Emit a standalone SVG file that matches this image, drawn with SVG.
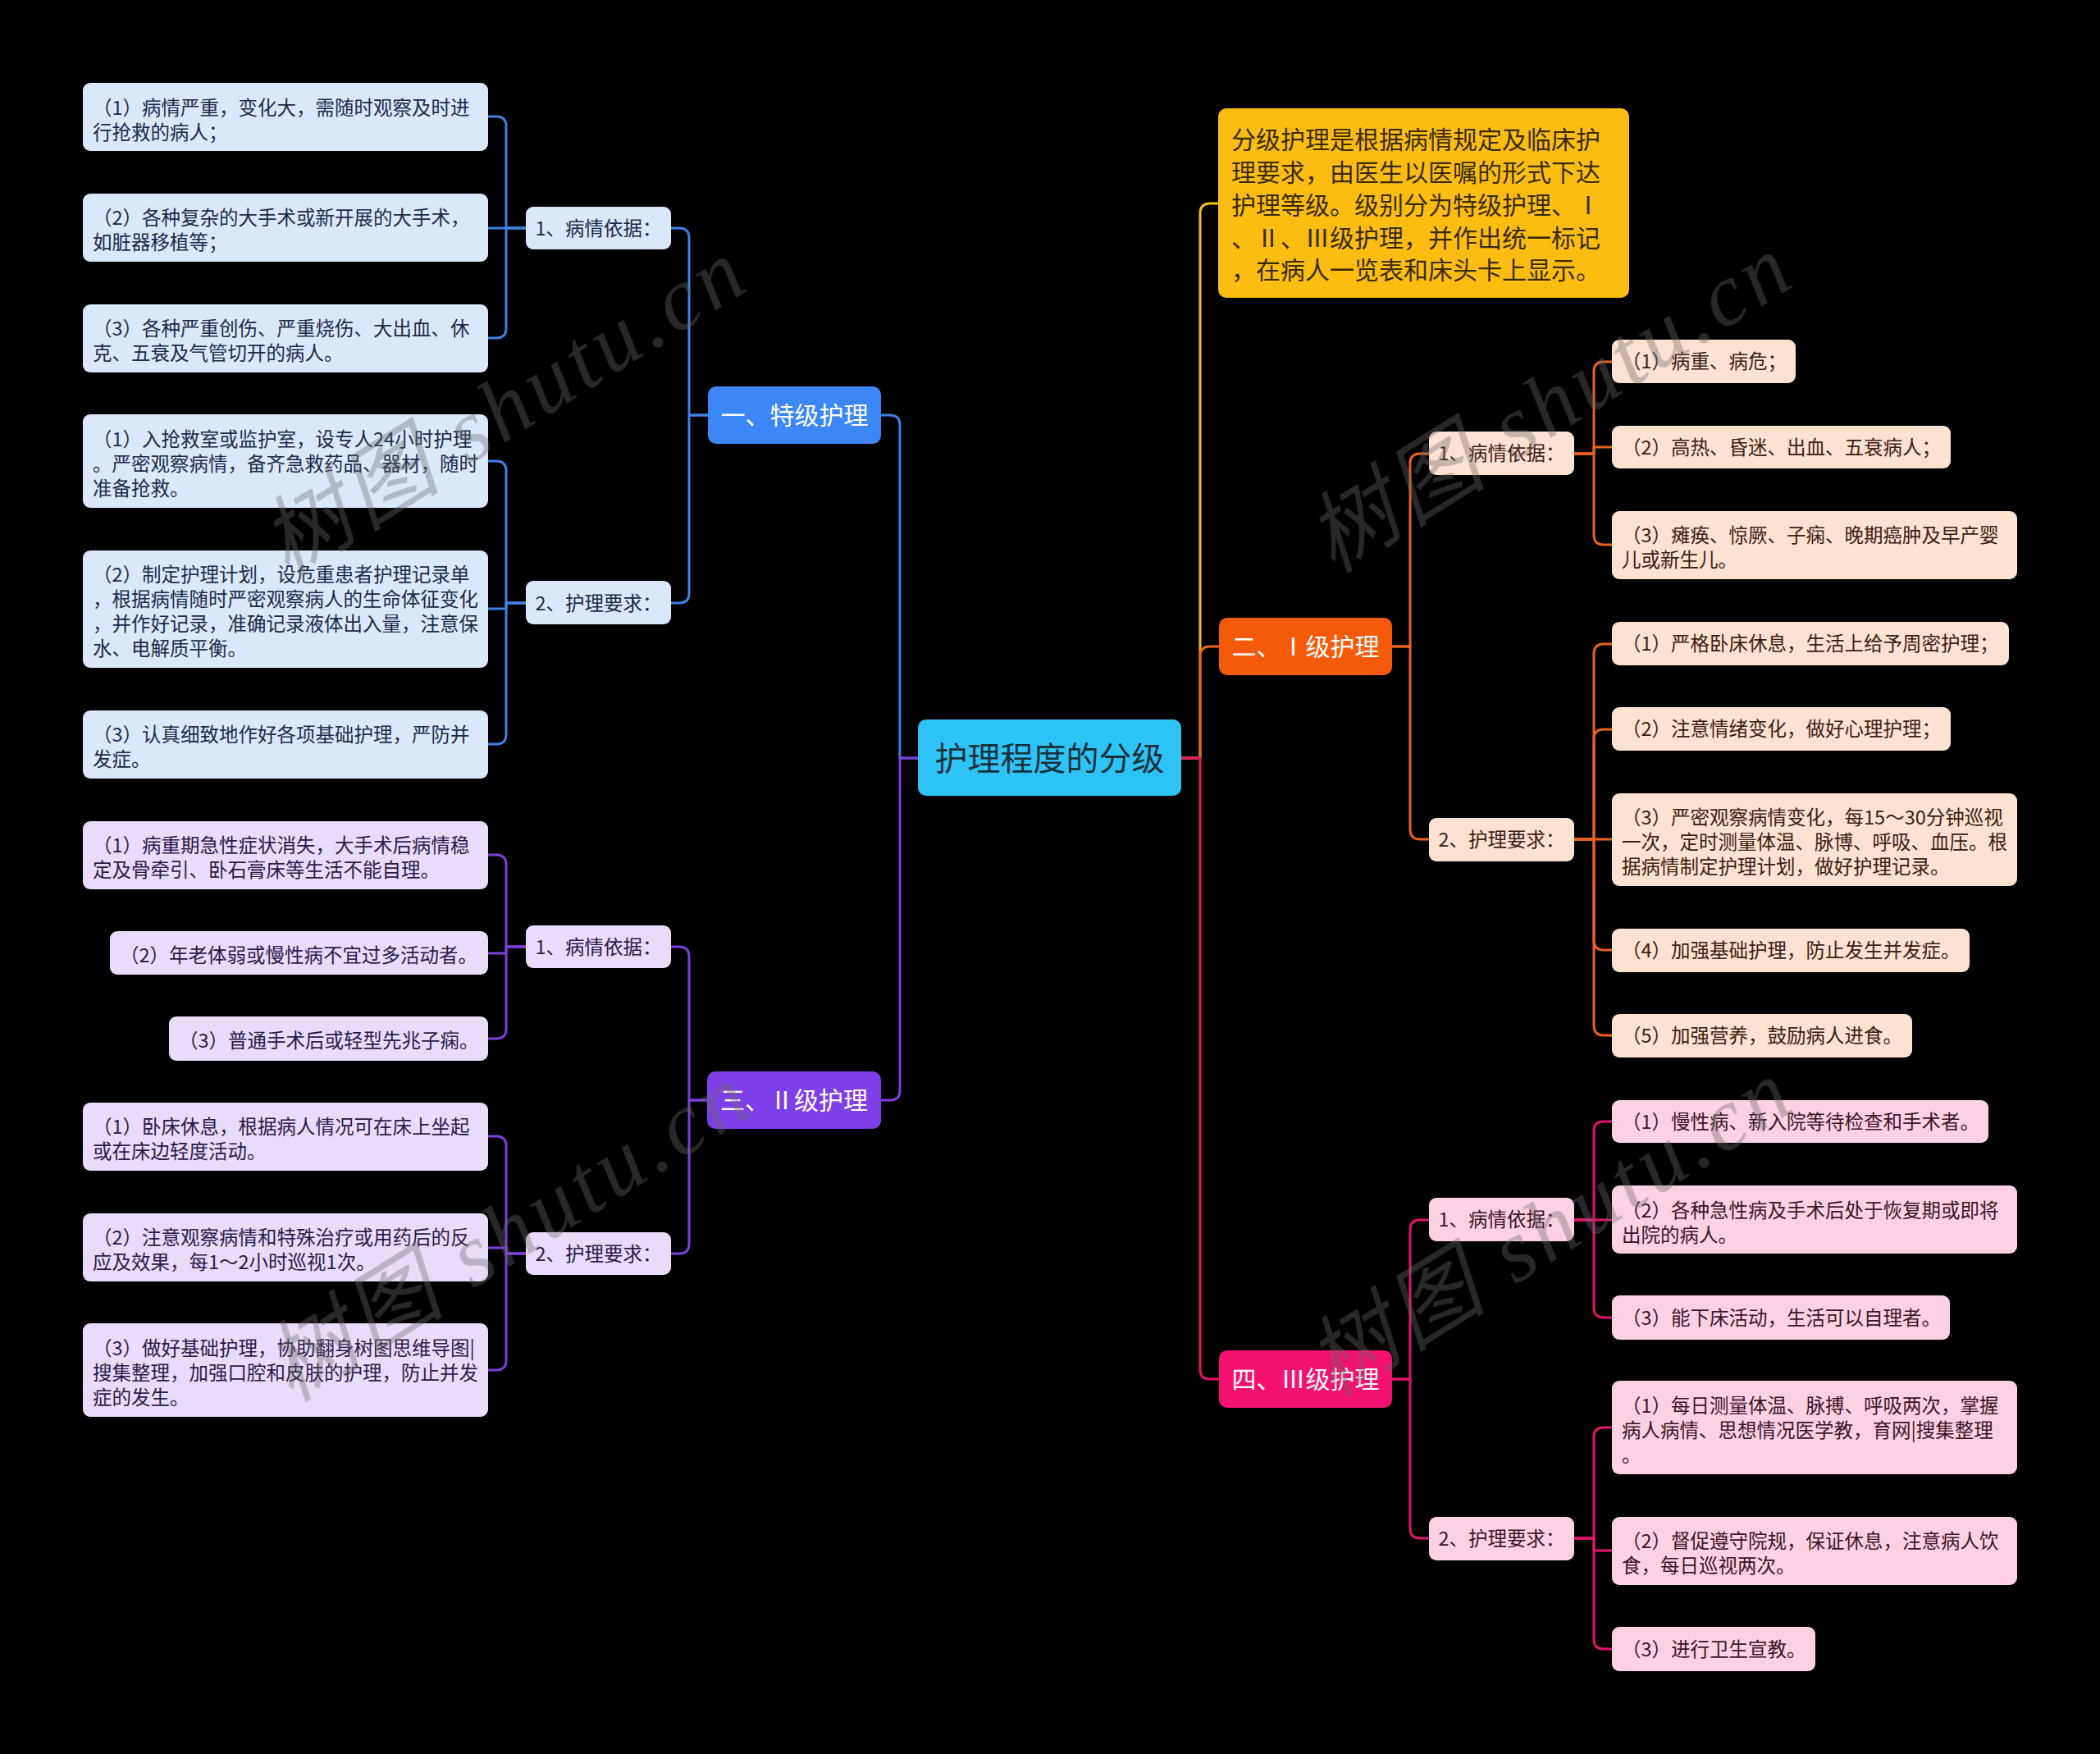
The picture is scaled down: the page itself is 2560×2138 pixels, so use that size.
<svg xmlns="http://www.w3.org/2000/svg" width="2560" height="2138" viewBox="0 0 2560 2138">
<style>
.c{fill:none;stroke-width:3;stroke-linecap:round;stroke-linejoin:round}
.cb{stroke:#3f80e4}.cp{stroke:#7d3fdc}.co{stroke:#ea631e}.ck{stroke:#e2146c}.cy{stroke:#f6c112}
text{font-family:"Noto Sans CJK SC","Noto Sans",sans-serif}
.t{font-size:23.5px}
.h{font-size:30px;text-anchor:middle}
.m{text-anchor:middle}
.fb{fill:#dbe8fc}.fp{fill:#e8dcfa}.fo{fill:#fde1d1}.fk{fill:#fcd1e3}
.xb{fill:#1b2b48}.xp{fill:#2b1a4a}.xo{fill:#3b2012}.xk{fill:#3d1428}
.wm{font-family:"Liberation Serif","Noto Sans CJK SC",serif;font-style:italic;font-size:108px;fill:#6a6a6a;letter-spacing:6px}
</style>
<rect x="0" y="0" width="2560" height="2138" fill="#000"/>

<g id="connectors">
<path class="c cb" d="M1119,924 H1097 V518 Q1097,506 1085,506 H1074"/>
<path class="c cb" d="M863,506 H840 V290 Q840,278 828,278 H818"/>
<path class="c cb" d="M863,506 H840 V723 Q840,735 828,735 H818"/>
<path class="c cb" d="M641,278 H617 V154 Q617,142 605,142 H595"/>
<path class="c cb" d="M641,278 H595"/>
<path class="c cb" d="M641,278 H617 V400 Q617,412 605,412 H595"/>
<path class="c cb" d="M641,735 H617 V574 Q617,562 605,562 H595"/>
<path class="c cb" d="M641,735 H617 V742 H595"/>
<path class="c cb" d="M641,735 H617 V895 Q617,907 605,907 H595"/>

<path class="c cp" d="M1119,924 H1097 V1329 Q1097,1341 1085,1341 H1074"/>
<path class="c cp" d="M862,1341 H840 V1166 Q840,1154 828,1154 H818"/>
<path class="c cp" d="M862,1341 H840 V1516 Q840,1528 828,1528 H818"/>
<path class="c cp" d="M641,1154 H617 V1054 Q617,1042 605,1042 H595"/>
<path class="c cp" d="M641,1154 H617 V1162 H595"/>
<path class="c cp" d="M641,1154 H617 V1254 Q617,1266 605,1266 H595"/>
<path class="c cp" d="M641,1528 H617 V1397 Q617,1385 605,1385 H595"/>
<path class="c cp" d="M641,1528 H617 V1521 H595"/>
<path class="c cp" d="M641,1528 H617 V1658 Q617,1670 605,1670 H595"/>

<path class="c cy" d="M1440,924 H1463 V260 Q1463,248 1475,248 H1485"/>
<path class="c co" d="M1440,924 H1463 V800 Q1463,788 1475,788 H1486"/>
<path class="c co" d="M1697,788 H1719 V565 Q1719,553 1731,553 H1742"/>
<path class="c co" d="M1697,788 H1719 V1011 Q1719,1023 1731,1023 H1742"/>
<path class="c co" d="M1919,553 H1943 V453 Q1943,441 1955,441 H1965"/>
<path class="c co" d="M1919,553 H1943 V545 H1965"/>
<path class="c co" d="M1919,553 H1943 V652 Q1943,664 1955,664 H1965"/>
<path class="c co" d="M1919,1023 H1943 V797 Q1943,785 1955,785 H1965"/>
<path class="c co" d="M1919,1023 H1943 V901 Q1943,889 1955,889 H1965"/>
<path class="c co" d="M1919,1023 H1965"/>
<path class="c co" d="M1919,1023 H1943 V1146 Q1943,1158 1955,1158 H1965"/>
<path class="c co" d="M1919,1023 H1943 V1250 Q1943,1262 1955,1262 H1965"/>

<path class="c ck" d="M1440,924 H1463 V1669 Q1463,1681 1475,1681 H1486"/>
<path class="c ck" d="M1697,1681 H1719 V1499 Q1719,1487 1731,1487 H1742"/>
<path class="c ck" d="M1697,1681 H1719 V1863 Q1719,1875 1731,1875 H1742"/>
<path class="c ck" d="M1919,1487 H1943 V1379 Q1943,1367 1955,1367 H1965"/>
<path class="c ck" d="M1919,1487 H1965"/>
<path class="c ck" d="M1919,1487 H1943 V1594 Q1943,1606 1955,1606 H1965"/>
<path class="c ck" d="M1919,1875 H1943 V1752 Q1943,1740 1955,1740 H1965"/>
<path class="c ck" d="M1919,1875 H1943 V1890 H1965"/>
<path class="c ck" d="M1919,1875 H1943 V1998 Q1943,2010 1955,2010 H1965"/>
</g>

<g id="root">
<rect x="1119" y="877" width="321" height="93" rx="10" fill="#2dc4f5"/>
<text x="1279.5" y="939" class="m" font-size="40" fill="#17303c">护理程度的分级</text>
</g>

<g id="intro">
<rect x="1485" y="132" width="501" height="231" rx="10" fill="#fbbd12"/>
<text font-size="30" fill="#3a2a00">
<tspan x="1501" y="181">分级护理是根据病情规定及临床护</tspan>
<tspan x="1501" y="221">理要求，由医生以医嘱的形式下达</tspan>
<tspan x="1501" y="261">护理等级。级别分为特级护理、Ⅰ</tspan>
<tspan x="1501" y="301">、Ⅱ、Ⅲ级护理，并作出统一标记</tspan>
<tspan x="1501" y="340">，在病人一览表和床头卡上显示。</tspan>
</text>
</g>

<g id="n1">
<rect x="863" y="471" width="211" height="70" rx="10" fill="#3d86f5"/>
<text x="968.5" y="517" class="h" fill="#fff">一、特级护理</text>
</g>
<g id="n1-1">
<rect x="641" y="252" width="177" height="52" rx="9" class="fb"/>
<text x="729.5" y="287" class="t m xb">1、病情依据：</text>
</g>
<g id="n1-1-1">
<rect x="101" y="101" width="494" height="83" rx="9" class="fb"/>
<text class="t xb"><tspan x="113" y="140">（1）病情严重，变化大，需随时观察及时进</tspan><tspan x="113" y="170">行抢救的病人；</tspan></text>
</g>
<g id="n1-1-2">
<rect x="101" y="236" width="494" height="83" rx="9" class="fb"/>
<text class="t xb"><tspan x="113" y="274">（2）各种复杂的大手术或新开展的大手术，</tspan><tspan x="113" y="304">如脏器移植等；</tspan></text>
</g>
<g id="n1-1-3">
<rect x="101" y="371" width="494" height="83" rx="9" class="fb"/>
<text class="t xb"><tspan x="113" y="409">（3）各种严重创伤、严重烧伤、大出血、休</tspan><tspan x="113" y="439">克、五衰及气管切开的病人。</tspan></text>
</g>
<g id="n1-2">
<rect x="641" y="708" width="177" height="53" rx="9" class="fb"/>
<text x="729.5" y="744" class="t m xb">2、护理要求：</text>
</g>
<g id="n1-2-1">
<rect x="101" y="505" width="494" height="114" rx="9" class="fb"/>
<text class="t xb"><tspan x="113" y="544">（1）入抢救室或监护室，设专人24小时护理</tspan><tspan x="113" y="574">。严密观察病情，备齐急救药品、器材，随时</tspan><tspan x="113" y="604">准备抢救。</tspan></text>
</g>
<g id="n1-2-2">
<rect x="101" y="671" width="494" height="143" rx="9" class="fb"/>
<text class="t xb"><tspan x="113" y="709">（2）制定护理计划，设危重患者护理记录单</tspan><tspan x="113" y="739">，根据病情随时严密观察病人的生命体征变化</tspan><tspan x="113" y="769">，并作好记录，准确记录液体出入量，注意保</tspan><tspan x="113" y="799">水、电解质平衡。</tspan></text>
</g>
<g id="n1-2-3">
<rect x="101" y="866" width="494" height="83" rx="9" class="fb"/>
<text class="t xb"><tspan x="113" y="904">（3）认真细致地作好各项基础护理，严防并</tspan><tspan x="113" y="934">发症。</tspan></text>
</g>

<g id="n3">
<rect x="862" y="1306" width="212" height="70" rx="10" fill="#7f3fe8"/>
<text x="968" y="1352" class="h" fill="#fff">三、Ⅱ级护理</text>
</g>
<g id="n3-1">
<rect x="641" y="1128" width="177" height="52" rx="9" class="fp"/>
<text x="729.5" y="1163" class="t m xp">1、病情依据：</text>
</g>
<g id="n3-1-1">
<rect x="101" y="1001" width="494" height="83" rx="9" class="fp"/>
<text class="t xp"><tspan x="113" y="1039">（1）病重期急性症状消失，大手术后病情稳</tspan><tspan x="113" y="1069">定及骨牵引、卧石膏床等生活不能自理。</tspan></text>
</g>
<g id="n3-1-2">
<rect x="134" y="1135" width="461" height="53" rx="9" class="fp"/>
<text x="146" y="1173" class="t xp">（2）年老体弱或慢性病不宜过多活动者。</text>
</g>
<g id="n3-1-3">
<rect x="206" y="1239" width="389" height="54" rx="9" class="fp"/>
<text x="218" y="1277" class="t xp">（3）普通手术后或轻型先兆子痫。</text>
</g>
<g id="n3-2">
<rect x="641" y="1502" width="177" height="52" rx="9" class="fp"/>
<text x="729.5" y="1537" class="t m xp">2、护理要求：</text>
</g>
<g id="n3-2-1">
<rect x="101" y="1344" width="494" height="83" rx="9" class="fp"/>
<text class="t xp"><tspan x="113" y="1382">（1）卧床休息，根据病人情况可在床上坐起</tspan><tspan x="113" y="1412">或在床边轻度活动。</tspan></text>
</g>
<g id="n3-2-2">
<rect x="101" y="1479" width="494" height="83" rx="9" class="fp"/>
<text class="t xp"><tspan x="113" y="1517">（2）注意观察病情和特殊治疗或用药后的反</tspan><tspan x="113" y="1547">应及效果，每1～2小时巡视1次。</tspan></text>
</g>
<g id="n3-2-3">
<rect x="101" y="1613" width="494" height="114" rx="9" class="fp"/>
<text class="t xp"><tspan x="113" y="1652">（3）做好基础护理，协助翻身树图思维导图|</tspan><tspan x="113" y="1682">搜集整理，加强口腔和皮肤的护理，防止并发</tspan><tspan x="113" y="1712">症的发生。</tspan></text>
</g>

<g id="n2">
<rect x="1486" y="753" width="211" height="70" rx="10" fill="#f55a0a"/>
<text x="1591.5" y="799" class="h" fill="#fff">二、Ⅰ级护理</text>
</g>
<g id="n2-1">
<rect x="1742" y="526" width="177" height="53" rx="9" class="fo"/>
<text x="1830.5" y="561" class="t m xo">1、病情依据：</text>
</g>
<g id="n2-1-1">
<rect x="1965" y="414" width="224" height="53" rx="9" class="fo"/>
<text x="1977" y="449" class="t xo">（1）病重、病危；</text>
</g>
<g id="n2-1-2">
<rect x="1965" y="519" width="413" height="52" rx="9" class="fo"/>
<text x="1977" y="554" class="t xo">（2）高热、昏迷、出血、五衰病人；</text>
</g>
<g id="n2-1-3">
<rect x="1965" y="623" width="494" height="83" rx="9" class="fo"/>
<text class="t xo"><tspan x="1977" y="661">（3）瘫痪、惊厥、子痫、晚期癌肿及早产婴</tspan><tspan x="1977" y="691">儿或新生儿。</tspan></text>
</g>
<g id="n2-2">
<rect x="1742" y="997" width="177" height="53" rx="9" class="fo"/>
<text x="1830.5" y="1032" class="t m xo">2、护理要求：</text>
</g>
<g id="n2-2-1">
<rect x="1965" y="758" width="484" height="53" rx="9" class="fo"/>
<text x="1977" y="793" class="t xo">（1）严格卧床休息，生活上给予周密护理；</text>
</g>
<g id="n2-2-2">
<rect x="1965" y="862" width="413" height="53" rx="9" class="fo"/>
<text x="1977" y="897" class="t xo">（2）注意情绪变化，做好心理护理；</text>
</g>
<g id="n2-2-3">
<rect x="1965" y="967" width="494" height="113" rx="9" class="fo"/>
<text class="t xo"><tspan x="1977" y="1005">（3）严密观察病情变化，每15～30分钟巡视</tspan><tspan x="1977" y="1035">一次，定时测量体温、脉博、呼吸、血压。根</tspan><tspan x="1977" y="1065">据病情制定护理计划，做好护理记录。</tspan></text>
</g>
<g id="n2-2-4">
<rect x="1965" y="1132" width="436" height="53" rx="9" class="fo"/>
<text x="1977" y="1167" class="t xo">（4）加强基础护理，防止发生并发症。</text>
</g>
<g id="n2-2-5">
<rect x="1965" y="1236" width="366" height="53" rx="9" class="fo"/>
<text x="1977" y="1271" class="t xo">（5）加强营养，鼓励病人进食。</text>
</g>

<g id="n4">
<rect x="1486" y="1646" width="211" height="70" rx="10" fill="#f5116f"/>
<text x="1591.5" y="1692" class="h" fill="#fff">四、Ⅲ级护理</text>
</g>
<g id="n4-1">
<rect x="1742" y="1460" width="177" height="53" rx="9" class="fk"/>
<text x="1830.5" y="1495" class="t m xk">1、病情依据：</text>
</g>
<g id="n4-1-1">
<rect x="1965" y="1341" width="459" height="52" rx="9" class="fk"/>
<text x="1977" y="1376" class="t xk">（1）慢性病、新入院等待检查和手术者。</text>
</g>
<g id="n4-1-2">
<rect x="1965" y="1445" width="494" height="83" rx="9" class="fk"/>
<text class="t xk"><tspan x="1977" y="1484">（2）各种急性病及手术后处于恢复期或即将</tspan><tspan x="1977" y="1514">出院的病人。</tspan></text>
</g>
<g id="n4-1-3">
<rect x="1965" y="1579" width="412" height="54" rx="9" class="fk"/>
<text x="1977" y="1615" class="t xk">（3）能下床活动，生活可以自理者。</text>
</g>
<g id="n4-2">
<rect x="1742" y="1849" width="177" height="53" rx="9" class="fk"/>
<text x="1830.5" y="1884" class="t m xk">2、护理要求：</text>
</g>
<g id="n4-2-1">
<rect x="1965" y="1683" width="494" height="114" rx="9" class="fk"/>
<text class="t xk"><tspan x="1977" y="1722">（1）每日测量体温、脉搏、呼吸两次，掌握</tspan><tspan x="1977" y="1752">病人病情、思想情况医学教，育网|搜集整理</tspan><tspan x="1977" y="1782">。</tspan></text>
</g>
<g id="n4-2-2">
<rect x="1965" y="1849" width="494" height="83" rx="9" class="fk"/>
<text class="t xk"><tspan x="1977" y="1887">（2）督促遵守院规，保证休息，注意病人饮</tspan><tspan x="1977" y="1917">食，每日巡视两次。</tspan></text>
</g>
<g id="n4-2-3">
<rect x="1965" y="1983" width="248" height="54" rx="9" class="fk"/>
<text x="1977" y="2019" class="t xk">（3）进行卫生宣教。</text>
</g>

<g id="watermark" opacity="0.38">
<text class="wm" transform="translate(350,705) rotate(-32)">树图 shutu.cn</text>
<text class="wm" transform="translate(1625,700) rotate(-32)">树图 shutu.cn</text>
<text class="wm" transform="translate(355,1710) rotate(-32)">树图 shutu.cn</text>
<text class="wm" transform="translate(1625,1705) rotate(-32)">树图 shutu.cn</text>
</g>
</svg>
